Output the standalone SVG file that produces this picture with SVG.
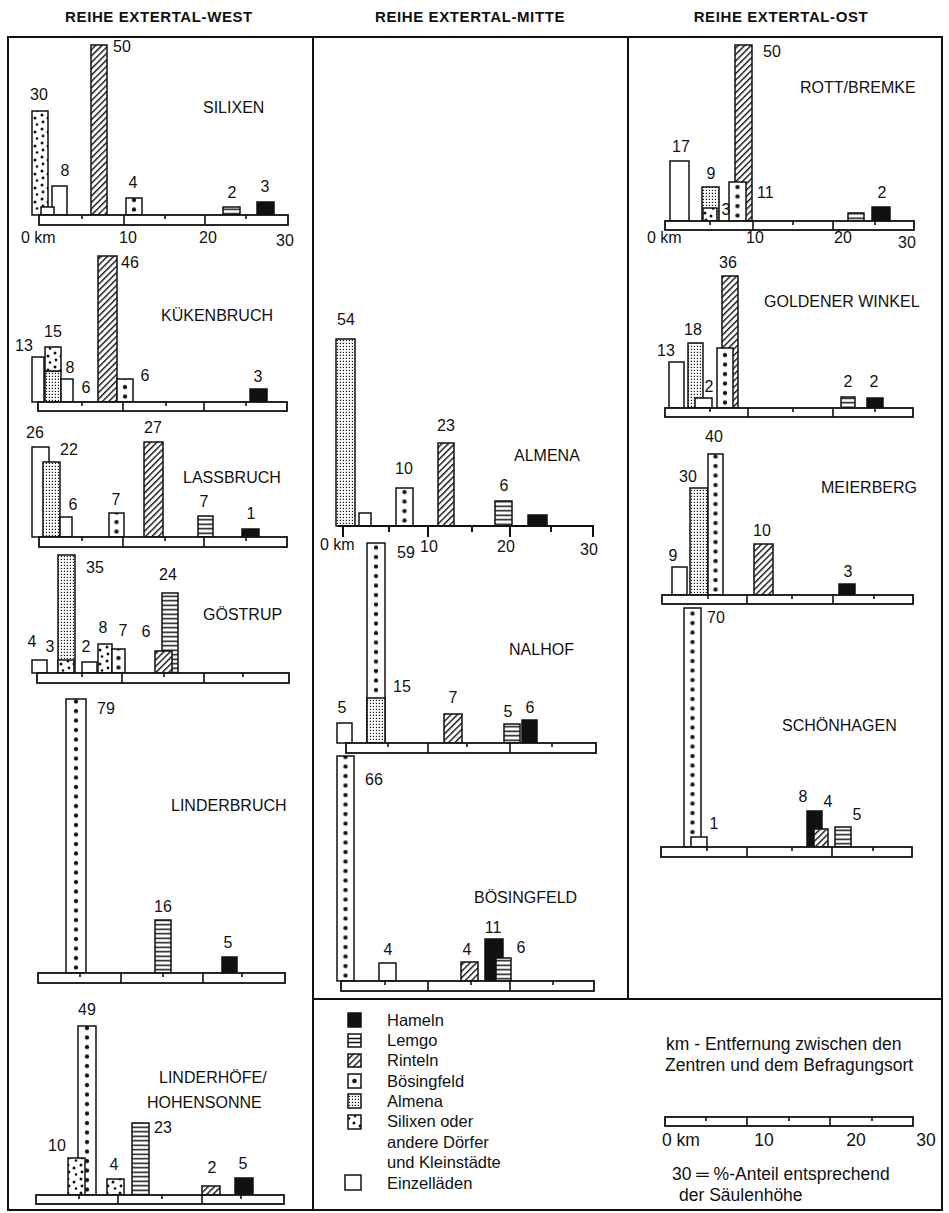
<svg xmlns="http://www.w3.org/2000/svg" width="949" height="1213" viewBox="0 0 949 1213">
<style>
.t{font-family:"Liberation Sans",Arial,sans-serif;font-size:16px;fill:#111}
.c{text-anchor:middle}
.h{font-weight:bold;font-size:15px;letter-spacing:0.6px}
.lg{font-size:16.5px}
.lr{font-size:17.5px}
.b{stroke:#111;stroke-width:1.5}
.ax{fill:#fff;stroke:#111;stroke-width:1.8}
.ln{stroke:#111;stroke-width:1.6;fill:none}
.fr{stroke:#111;stroke-width:2;fill:none}
.k{fill:#111}
.w{fill:#fff}
.L{fill:url(#pL)}
.R{fill:url(#pR)}
.A{fill:url(#pA)}
.S{fill:url(#pS)}
.B{fill:url(#pB)}
</style>
<defs>
<pattern id="pL" patternUnits="userSpaceOnUse" width="8" height="4.5"><rect width="8" height="4.5" fill="#fff"/><rect y="1.5" width="8" height="1.5" fill="#111"/></pattern>
<pattern id="pR" patternUnits="userSpaceOnUse" width="4.5" height="4.5" patternTransform="rotate(45)"><rect width="4.5" height="4.5" fill="#fff"/><rect width="1.4" height="4.5" fill="#111"/></pattern>
<pattern id="pA" patternUnits="userSpaceOnUse" width="3" height="3"><rect width="3" height="3" fill="#fff"/><rect x="0.8" y="0.8" width="1.2" height="1.2" fill="#111"/></pattern>
<pattern id="pS" patternUnits="userSpaceOnUse" width="13" height="14"><rect width="13" height="14" fill="#fff"/><circle cx="3" cy="3" r="1.5" fill="#111"/><circle cx="9" cy="6" r="1.5" fill="#111"/><circle cx="4" cy="10" r="1.4" fill="#111"/><circle cx="11" cy="12.5" r="1.3" fill="#111"/></pattern>
<pattern id="pB" patternUnits="userSpaceOnUse" x="-20" y="0" width="40" height="9.5"><rect width="40" height="9.5" fill="#fff"/><circle cx="20" cy="4" r="2.1" fill="#111"/></pattern>
</defs>
<rect width="949" height="1213" fill="#fff"/>

<g id="headers">
<text class="t h c" x="159" y="22">REIHE EXTERTAL-WEST</text>
<text class="t h c" x="470" y="22">REIHE EXTERTAL-MITTE</text>
<text class="t h c" x="781" y="22">REIHE EXTERTAL-OST</text>
</g>

<g id="frame">
<rect class="fr" x="8" y="37" width="934" height="1173"/>
<line class="fr" x1="313" y1="37" x2="313" y2="1210"/>
<line class="fr" x1="628" y1="37" x2="628" y2="999"/>
<line class="fr" x1="313" y1="999" x2="942" y2="999"/>
</g>

<!-- WEST -->
<g id="silixen">
<rect class="b S" x="32" y="111" width="16" height="104"/>
<rect class="b w" x="52" y="186" width="15" height="29"/>
<rect class="b w" x="41" y="207" width="13" height="8"/>
<rect class="b R" x="91" y="45" width="16" height="170"/>
<rect class="b B" x="-8" y="-17" width="16" height="17" transform="translate(134,215)"/>
<rect class="b L" x="223" y="207" width="17" height="8"/>
<rect class="b k" x="257" y="202" width="17" height="13"/>
<rect class="ax" x="39" y="215" width="249" height="10"/>
<path class="ln" d="M124 215V225M205 215V225M82 215v4M165 215v4M246 215v4"/>
<text class="t c" x="39" y="100">30</text>
<text class="t c" x="65" y="176">8</text>
<text class="t" x="113" y="52">50</text>
<text class="t c" x="133" y="188">4</text>
<text class="t c" x="232" y="198">2</text>
<text class="t c" x="265" y="192">3</text>
<text class="t" x="21" y="243">0 km</text>
<text class="t c" x="128" y="243">10</text>
<text class="t c" x="208" y="243">20</text>
<text class="t c" x="285" y="246">30</text>
<text class="t" x="203" y="113">SILIXEN</text>
</g>

<g id="kuekenbruch">
<rect class="b w" x="32" y="357" width="12" height="45"/>
<rect class="b A" x="45" y="371" width="16" height="31"/>
<rect class="b S" x="45" y="347" width="16" height="24"/>
<rect class="b w" x="61" y="379" width="12" height="23"/>
<rect class="b R" x="98" y="256" width="19" height="146"/>
<rect class="b B" x="-8" y="-23" width="16" height="23" transform="translate(125,402)"/>
<rect class="b k" x="250" y="389" width="17" height="13"/>
<rect class="ax" x="38" y="402" width="249" height="9"/>
<path class="ln" d="M123 402V411M204 402V411M82 402v4M166 402v4M246 402v4"/>
<text class="t c" x="24" y="351">13</text>
<text class="t c" x="53" y="337">15</text>
<text class="t c" x="70" y="373">8</text>
<text class="t c" x="86" y="393">6</text>
<text class="t" x="121" y="268">46</text>
<text class="t c" x="145" y="381">6</text>
<text class="t c" x="258" y="382">3</text>
<text class="t" x="161" y="321">KÜKENBRUCH</text>
</g>

<g id="lassbruch">
<rect class="b w" x="32" y="447" width="17" height="90"/>
<rect class="b A" x="43" y="462" width="17" height="75"/>
<rect class="b w" x="60" y="517" width="12" height="20"/>
<rect class="b B" x="-7.5" y="-24" width="15" height="24" transform="translate(116.5,537)"/>
<rect class="b R" x="144" y="442" width="19" height="95"/>
<rect class="b L" x="198" y="516" width="15" height="21"/>
<rect class="b k" x="242" y="529" width="17" height="8"/>
<rect class="ax" x="39" y="537" width="248" height="10"/>
<path class="ln" d="M123 537V547M204 537V547M82 537v4M165 537v4M246 537v4"/>
<text class="t c" x="35" y="438">26</text>
<text class="t" x="60" y="455">22</text>
<text class="t c" x="73" y="510">6</text>
<text class="t c" x="116" y="505">7</text>
<text class="t c" x="153" y="433">27</text>
<text class="t c" x="204" y="507">7</text>
<text class="t c" x="251" y="519">1</text>
<text class="t" x="183" y="483">LASSBRUCH</text>
</g>

<g id="goestrup">
<rect class="b w" x="32" y="660" width="15" height="13"/>
<rect class="b A" x="58" y="555" width="17" height="118"/>
<rect class="b S" x="58" y="660" width="16" height="13"/>
<rect class="b w" x="82" y="662" width="15" height="11"/>
<rect class="b S" x="98" y="644" width="14" height="29"/>
<rect class="b B" x="-6.5" y="-24" width="13" height="24" transform="translate(118.5,673)"/>
<rect class="b L" x="162" y="593" width="16" height="80"/>
<rect class="b R" x="155" y="651" width="17" height="22"/>
<rect class="ax" x="37" y="673" width="252" height="10"/>
<path class="ln" d="M122 673V683M204 673V683M82 673v4M164 673v4M243 673v4"/>
<text class="t" x="86" y="573">35</text>
<text class="t c" x="168" y="580">24</text>
<text class="t c" x="146" y="637">6</text>
<text class="t c" x="32" y="647">4</text>
<text class="t c" x="50" y="652">3</text>
<text class="t c" x="86" y="652">2</text>
<text class="t c" x="103" y="633">8</text>
<text class="t c" x="123" y="636">7</text>
<text class="t" x="203" y="620">GÖSTRUP</text>
</g>

<g id="linderbruch">
<rect class="b B" x="-10" y="-274" width="20" height="274" transform="translate(76,973)"/>
<rect class="b L" x="155" y="920" width="16" height="53"/>
<rect class="b k" x="222" y="957" width="15" height="16"/>
<rect class="ax" x="38" y="973" width="247" height="10"/>
<path class="ln" d="M121 973V983M203 973V983M80 973v4M163 973v4M242 973v4"/>
<text class="t" x="97" y="714">79</text>
<text class="t c" x="163" y="912">16</text>
<text class="t c" x="228" y="948">5</text>
<text class="t" x="171" y="811">LINDERBRUCH</text>
</g>

<g id="linderhoefe">
<rect class="b B" x="-9" y="-169" width="18" height="169" transform="translate(87,1195)"/>
<rect class="b S" x="68" y="1158" width="17" height="37"/>
<rect class="b S" x="107" y="1179" width="17" height="16"/>
<rect class="b L" x="132" y="1123" width="17" height="72"/>
<rect class="b R" x="202" y="1186" width="18" height="9"/>
<rect class="b k" x="235" y="1178" width="18" height="17"/>
<rect class="ax" x="36" y="1195" width="248" height="9"/>
<path class="ln" d="M118 1195V1204M202 1195V1204M79 1195v4M162 1195v4M241 1195v4"/>
<text class="t c" x="87" y="1015">49</text>
<text class="t c" x="57" y="1151">10</text>
<text class="t c" x="114" y="1170">4</text>
<text class="t" x="154" y="1133">23</text>
<text class="t c" x="212" y="1173">2</text>
<text class="t c" x="243" y="1169">5</text>
<text class="t" x="159" y="1083">LINDERHÖFE/</text>
<text class="t" x="147" y="1108">HOHENSONNE</text>
</g>

<!-- MITTE -->
<g id="almena">
<rect class="b A" x="336" y="339" width="19" height="187"/>
<rect class="b w" x="359" y="513" width="12" height="13"/>
<rect class="b B" x="-8.5" y="-38" width="17" height="38" transform="translate(404.5,526)"/>
<rect class="b R" x="438" y="443" width="16" height="83"/>
<rect class="b L" x="495" y="501" width="17" height="25"/>
<rect class="b k" x="528" y="515" width="19" height="11"/>
<path class="ln" style="stroke-width:2" d="M338 526H594M343 526v11M428 526v11M510 526v11M593 526v11M389 526v6M472 526v6M551 526v6"/>
<text class="t c" x="346" y="325">54</text>
<text class="t c" x="404" y="474">10</text>
<text class="t c" x="446" y="431">23</text>
<text class="t c" x="504" y="491">6</text>
<text class="t" x="320" y="550">0 km</text>
<text class="t" x="420" y="552">10</text>
<text class="t c" x="506" y="552">20</text>
<text class="t c" x="589" y="555">30</text>
<text class="t" x="514" y="461">ALMENA</text>
</g>

<g id="nalhof">
<rect class="b B" x="-9" y="-200" width="18" height="200" transform="translate(376,743)"/>
<rect class="b A" x="367" y="698" width="18" height="45"/>
<rect class="b w" x="337" y="723" width="15" height="20"/>
<rect class="b R" x="444" y="714" width="18" height="29"/>
<rect class="b L" x="504" y="724" width="16" height="19"/>
<rect class="b k" x="522" y="720" width="15" height="23"/>
<rect class="ax" x="346" y="743" width="250" height="10"/>
<path class="ln" d="M428 743V753M510 743V753M388 743v4M467 743v4M552 743v4"/>
<text class="t" x="397" y="558">59</text>
<text class="t" x="393" y="692">15</text>
<text class="t c" x="342" y="713">5</text>
<text class="t c" x="453" y="703">7</text>
<text class="t c" x="508" y="717">5</text>
<text class="t c" x="530" y="713">6</text>
<text class="t" x="509" y="655">NALHOF</text>
</g>

<g id="boesingfeld">
<rect class="b B" x="-8.5" y="-225" width="17" height="225" transform="translate(345.5,981)"/>
<rect class="b w" x="379" y="963" width="17" height="18"/>
<rect class="b R" x="461" y="962" width="17" height="19"/>
<rect class="b k" x="485" y="939" width="18" height="42"/>
<rect class="b L" x="496" y="958" width="15" height="23"/>
<rect class="ax" x="341" y="981" width="253" height="10"/>
<path class="ln" d="M428 981V991M510 981V991M385 981v4M471 981v4M553 981v4"/>
<text class="t" x="365" y="785">66</text>
<text class="t c" x="388" y="955">4</text>
<text class="t c" x="467" y="955">4</text>
<text class="t c" x="493" y="933">11</text>
<text class="t c" x="521" y="953">6</text>
<text class="t" x="474" y="903">BÖSINGFELD</text>
</g>

<!-- OST -->
<g id="rott-bremke">
<rect class="b w" x="670" y="161" width="19" height="60"/>
<rect class="b A" x="702" y="187" width="17" height="34"/>
<rect class="b S" x="703" y="208" width="14" height="13"/>
<rect class="b R" x="735" y="45" width="17" height="176"/>
<rect class="b B" x="-8.5" y="-39" width="17" height="39" transform="translate(737.5,221)"/>
<rect class="b L" x="848" y="213" width="16" height="8"/>
<rect class="b k" x="872" y="207" width="18" height="14"/>
<rect class="ax" x="665" y="221" width="249" height="9"/>
<path class="ln" d="M753 221V230M833 221V230M710 221v4M793 221v4M875 221v4"/>
<text class="t c" x="681" y="152">17</text>
<text class="t c" x="711" y="179">9</text>
<text class="t c" x="726" y="215">3</text>
<text class="t" x="757" y="198">11</text>
<text class="t" x="763" y="57">50</text>
<text class="t c" x="882" y="198">2</text>
<text class="t" x="647" y="243">0 km</text>
<text class="t c" x="755" y="243">10</text>
<text class="t c" x="843" y="243">20</text>
<text class="t c" x="907" y="248">30</text>
<text class="t" x="800" y="93">ROTT/BREMKE</text>
</g>

<g id="goldener-winkel">
<rect class="b w" x="669" y="362" width="15" height="46"/>
<rect class="b A" x="688" y="343" width="15" height="65"/>
<rect class="b w" x="695" y="398" width="17" height="10"/>
<rect class="b R" x="722" y="276" width="16" height="132"/>
<rect class="b B" x="-8" y="-60" width="16" height="60" transform="translate(725,408)"/>
<rect class="b L" x="841" y="397" width="14" height="11"/>
<rect class="b k" x="867" y="398" width="16" height="10"/>
<rect class="ax" x="665" y="408" width="248" height="9"/>
<path class="ln" d="M748 408V417M833 408V417M710 408v4M793 408v4M875 408v4"/>
<text class="t c" x="666" y="356">13</text>
<text class="t c" x="693" y="335">18</text>
<text class="t c" x="709" y="392">2</text>
<text class="t c" x="728" y="268">36</text>
<text class="t c" x="848" y="387">2</text>
<text class="t c" x="874" y="387">2</text>
<text class="t" x="764" y="307">GOLDENER WINKEL</text>
</g>

<g id="meierberg">
<rect class="b w" x="672" y="567" width="15" height="28"/>
<rect class="b A" x="690" y="488" width="18" height="107"/>
<rect class="b B" x="-7.5" y="-141" width="15" height="141" transform="translate(715.5,595)"/>
<rect class="b R" x="754" y="544" width="19" height="51"/>
<rect class="b k" x="839" y="584" width="16" height="11"/>
<rect class="ax" x="662" y="595" width="251" height="9"/>
<path class="ln" d="M747 595V604M833 595V604M708 595v4M792 595v4M874 595v4"/>
<text class="t c" x="714" y="442">40</text>
<text class="t c" x="673" y="561">9</text>
<text class="t c" x="688" y="482">30</text>
<text class="t c" x="762" y="536">10</text>
<text class="t c" x="848" y="577">3</text>
<text class="t" x="821" y="493">MEIERBERG</text>
</g>

<g id="schoenhagen">
<rect class="b B" x="-8.5" y="-239" width="17" height="239" transform="translate(692.5,847)"/>
<rect class="b w" x="691" y="837" width="16" height="10"/>
<rect class="b k" x="807" y="811" width="15" height="36"/>
<rect class="b R" x="814" y="829" width="14" height="18"/>
<rect class="b L" x="835" y="827" width="16" height="20"/>
<rect class="ax" x="661" y="847" width="251" height="10"/>
<path class="ln" d="M747 847V857M832 847V857M707 847v4M792 847v4M873 847v4"/>
<text class="t" x="707" y="623">70</text>
<text class="t c" x="714" y="829">1</text>
<text class="t c" x="803" y="802">8</text>
<text class="t c" x="828" y="807">4</text>
<text class="t c" x="857" y="820">5</text>
<text class="t" x="782" y="731">SCHÖNHAGEN</text>
</g>

<g id="legend">
<rect class="b k" x="348" y="1013" width="13" height="14"/>
<rect class="b w" x="348" y="1034" width="13" height="13"/>
<path class="ln" d="M348 1038.5h13M348 1042.5h13"/>
<rect class="b R" x="348" y="1054" width="13" height="13"/>
<rect class="b w" x="348" y="1074" width="13" height="14"/>
<circle cx="354.5" cy="1081" r="2.3" fill="#111"/>
<rect class="b A" x="348" y="1094" width="13" height="14"/>
<rect class="b S" x="348" y="1115" width="13" height="14"/>
<rect class="b w" x="345" y="1175" width="16" height="15"/>
<text class="t lg" x="387" y="1026">Hameln</text>
<text class="t lg" x="387" y="1046">Lemgo</text>
<text class="t lg" x="387" y="1066">Rinteln</text>
<text class="t lg" x="387" y="1087">Bösingfeld</text>
<text class="t lg" x="387" y="1107">Almena</text>
<text class="t lg" x="387" y="1127">Silixen oder</text>
<text class="t lg" x="387" y="1148">andere Dörfer</text>
<text class="t lg" x="387" y="1168">und Kleinstädte</text>
<text class="t lg" x="387" y="1189">Einzelläden</text>
<text class="t lr" x="666" y="1050">km - Entfernung zwischen den</text>
<text class="t lr" x="665" y="1071">Zentren und dem Befragungsort</text>
<rect class="ax" x="665" y="1117" width="248" height="9"/>
<path class="ln" d="M747 1117V1126M830 1117V1126M706 1117v4M789 1117v4M872 1117v4"/>
<text class="t lr" x="662" y="1146">0 km</text>
<text class="t lr c" x="764" y="1146">10</text>
<text class="t lr c" x="856" y="1146">20</text>
<text class="t lr c" x="926" y="1146">30</text>
<text class="t lr" x="672" y="1180">30 ═ %-Anteil entsprechend</text>
<text class="t lr" x="679" y="1201">der Säulenhöhe</text>
</g>
</svg>
